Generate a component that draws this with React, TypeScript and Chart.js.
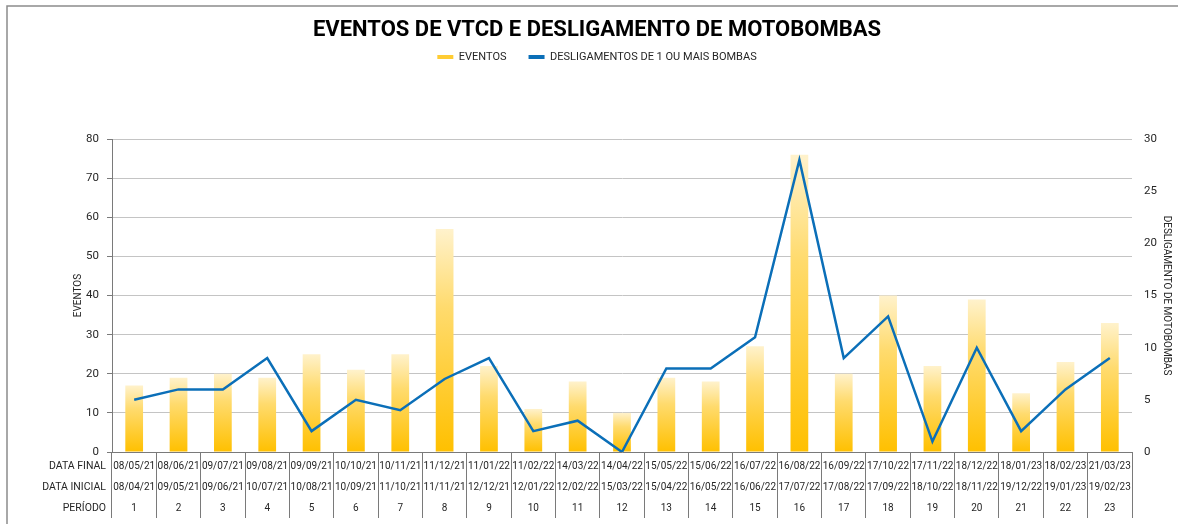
import React, { useEffect, useRef } from "react";
import { Chart, registerables } from "chart.js";

Chart.register(...registerables);

const dataFinal = ["08/05/21", "08/06/21", "09/07/21", "09/08/21", "09/09/21", "10/10/21", "10/11/21", "11/12/21", "11/01/22", "11/02/22", "14/03/22", "14/04/22", "15/05/22", "15/06/22", "16/07/22", "16/08/22", "16/09/22", "17/10/22", "17/11/22", "18/12/22", "18/01/23", "18/02/23", "21/03/23"];
const dataInicial = ["08/04/21", "09/05/21", "09/06/21", "10/07/21", "10/08/21", "10/09/21", "11/10/21", "11/11/21", "12/12/21", "12/01/22", "12/02/22", "15/03/22", "15/04/22", "16/05/22", "16/06/22", "17/07/22", "17/08/22", "17/09/22", "18/10/22", "18/11/22", "19/12/22", "19/01/23", "19/02/23"];
const periodos = ["1", "2", "3", "4", "5", "6", "7", "8", "9", "10", "11", "12", "13", "14", "15", "16", "17", "18", "19", "20", "21", "22", "23"];
const eventos = [17, 19, 20, 19, 25, 21, 25, 57, 22, 11, 18, 10, 19, 18, 27, 76, 20, 40, 22, 39, 15, 23, 33];
const desligamentos = [5, 6, 6, 9, 2, 5, 4, 7, 9, 2, 3, 0, 8, 8, 11, 28, 9, 13, 1, 10, 2, 6, 9];
const rowLabels = ["DATA FINAL", "DATA INICIAL", "PERÍODO"];

const FONT = "Roboto, 'DejaVu Sans', sans-serif";
const TEXT = "#262626";
const LINE_H = 21;
const LABEL_PAD = 3.5;

export default function App() {
  const ref = useRef<HTMLCanvasElement | null>(null);

  useEffect(() => {
    document.body.style.margin = "0";
    const canvas = ref.current;
    if (!canvas) return;
    Chart.defaults.font.family = FONT;
    Chart.defaults.color = TEXT;

    const labels = dataFinal.map((f, i) => [f, dataInicial[i], periodos[i]]);

    const framePlugin = {
      id: "frame",
      beforeDraw(chart: any) {
        const c = chart.ctx;
        c.save();
        c.strokeStyle = "#8c8c8c";
        c.lineWidth = 1.5;
        c.beginPath();
        c.moveTo(7, chart.height);
        c.lineTo(7, 6);
        c.lineTo(chart.width, 6);
        c.stroke();
        c.restore();
      },
      afterDraw(chart: any) {
        const c = chart.ctx;
        const xs = chart.scales.x;
        c.save();
        c.fillStyle = TEXT;
        c.font = `10.5px ${FONT}`;
        c.textAlign = "right";
        c.textBaseline = "middle";
        rowLabels.forEach((t, k) => {
          c.fillText(t, chart.chartArea.left - 6, xs.top + LABEL_PAD + LINE_H / 2 + k * LINE_H);
        });
        c.restore();
      },
    };

    const legendSpacer = {
      id: "legendSpacer",
      beforeInit(chart: any) {
        const orig = chart.legend.fit;
        chart.legend.fit = function () {
          orig.call(this);
          this.height = 109.5;
        };
      },
    };

    const barColor = (ctx: any) => {
      if (ctx.type !== "data") return "#FFCC33";
      const chart = ctx.chart;
      const ys = chart.scales.y;
      if (!ys || ctx.raw == null) return "#FFC000";
      const top = ys.getPixelForValue(ctx.raw);
      const bottom = ys.getPixelForValue(0);
      if (!isFinite(top) || !isFinite(bottom) || top === bottom) return "#FFC000";
      const g = chart.ctx.createLinearGradient(0, top, 0, bottom);
      g.addColorStop(0, "#FFF2CC");
      g.addColorStop(0.35, "#FFDB6E");
      g.addColorStop(1, "#FFC000");
      return g;
    };

    const chart = new Chart(canvas, {
      type: "bar",
      data: {
        labels,
        datasets: [
          {
            type: "bar",
            label: "EVENTOS",
            data: eventos,
            backgroundColor: barColor,
            borderWidth: 0,
            barPercentage: 0.4,
            categoryPercentage: 1,
            yAxisID: "y",
            order: 2,
          },
          {
            type: "line",
            label: "DESLIGAMENTOS DE 1 OU MAIS BOMBAS",
            data: desligamentos,
            borderColor: "#0B6FB8",
            backgroundColor: "#0B6FB8",
            borderWidth: 2.5,
            pointRadius: 0,
            tension: 0,
            yAxisID: "y1",
            order: 1,
          },
        ],
      },
      options: {
        responsive: false,
        animation: false,
        layout: { padding: { left: 16, right: 0, top: 0, bottom: 0 } },
        plugins: {
          title: {
            display: true,
            text: "EVENTOS DE VTCD E DESLIGAMENTO DE MOTOBOMBAS",
            color: "#000",
            font: { size: 22, weight: "bold", family: FONT },
            padding: { top: 17.4, bottom: -14.3 },
          },
          legend: {
            display: true,
            labels: {
              boxWidth: 16,
              boxHeight: 4,
              padding: 22,
              color: TEXT,
              font: { size: 11, family: FONT },
              sort: (a: any, b: any) => a.datasetIndex - b.datasetIndex,
              generateLabels: (ch: any) => {
                const items = (Chart.defaults.plugins.legend.labels as any).generateLabels(ch);
                return items.map((it: any) => {
                  const isLine = it.datasetIndex === 1;
                  return {
                    ...it,
                    fillStyle: isLine ? "#0B6FB8" : "#FFCC33",
                    strokeStyle: "rgba(0,0,0,0)",
                    lineWidth: 0,
                  };
                });
              },
            },
          },
          tooltip: { enabled: false },
        },
        scales: {
          x: {
            offset: true,
            grid: {
              offset: true,
              drawOnChartArea: false,
              drawTicks: true,
              tickLength: 66,
              tickColor: "#7a7a7a",
            },
            border: { display: true, color: "#7a7a7a", width: 1 },
            ticks: {
              padding: LABEL_PAD - 66,
              color: TEXT,
              font: { size: 10, lineHeight: LINE_H / 10, family: FONT },
              maxRotation: 0,
              autoSkip: false,
            },
            afterFit: (s: any) => {
              s.height = 72;
            },
          },
          y: {
            position: "left",
            min: 0,
            max: 80,
            ticks: { stepSize: 10, padding: 8, color: TEXT, font: { size: 11.5, family: FONT } },
            grid: { color: "#c4c4c4", lineWidth: 1, drawTicks: true, tickLength: 5, tickColor: "#7a7a7a" },
            border: { display: true, color: "#7a7a7a", width: 1 },
            title: {
              display: true,
              text: "EVENTOS",
              color: TEXT,
              font: { size: 10, family: FONT },
              padding: { top: 56, bottom: 0 },
            },
            afterFit: (s: any) => {
              s.width = 96;
            },
          },
          y1: {
            position: "right",
            min: 0,
            max: 30,
            ticks: { stepSize: 5, padding: 12, color: TEXT, font: { size: 11.5, family: FONT } },
            grid: { drawOnChartArea: false, drawTicks: false },
            border: { display: false },
            title: {
              display: true,
              text: "DESLIGAMENTO DE MOTOBOMBAS",
              color: TEXT,
              font: { size: 10, family: FONT },
              padding: { top: 6, bottom: 0 },
            },
            afterFit: (s: any) => {
              s.width = 46;
            },
          },
        },
      } as any,
      plugins: [framePlugin, legendSpacer],
    });

    return () => {
      chart.destroy();
    };
  }, []);

  return (
    <div style={{ width: 1178, height: 524, position: "relative", background: "#fff" }}>
      <canvas ref={ref} width={1178} height={524} style={{ display: "block", width: 1178, height: 524 }} />
    </div>
  );
}
